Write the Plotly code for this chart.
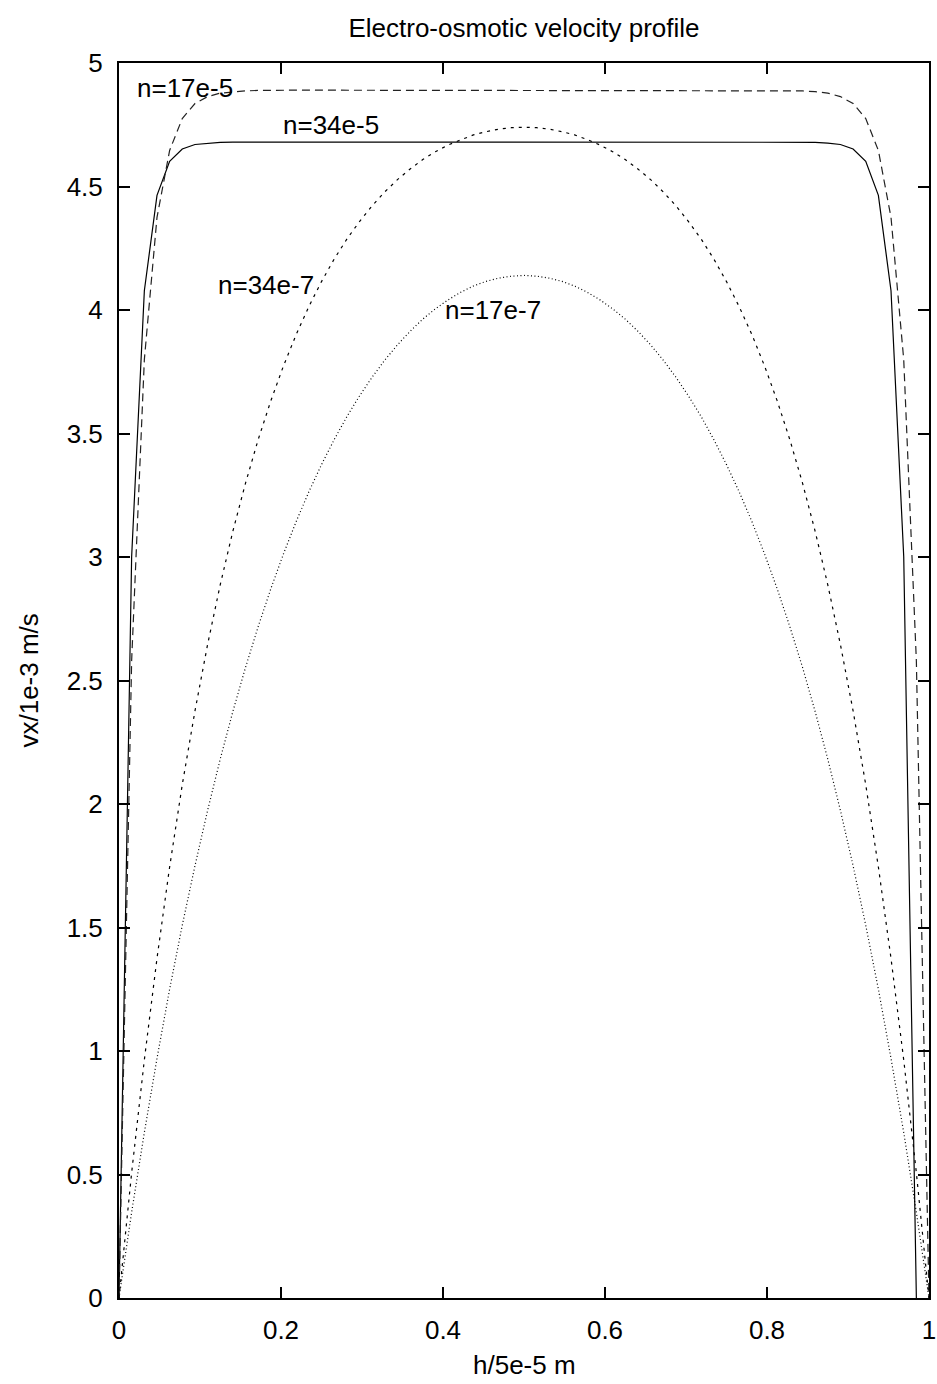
import plotly.graph_objects as go

# Sample positions (h / 5e-5 m)
x_vals = [0, 0.0156, 0.0313, 0.0469, 0.0625, 0.0781, 0.0938, 0.1094, 0.125, 0.1406,
          0.1563, 0.1719, 0.1875, 0.2031, 0.2188, 0.2344, 0.25, 0.2656, 0.2813, 0.2969,
          0.3125, 0.3281, 0.3438, 0.3594, 0.375, 0.3906, 0.4063, 0.4219, 0.4375, 0.4531,
          0.4688, 0.4844, 0.5, 0.5156, 0.5313, 0.5469, 0.5625, 0.5781, 0.5938, 0.6094,
          0.625, 0.6406, 0.6563, 0.6719, 0.6875, 0.7031, 0.7188, 0.7344, 0.75, 0.7656,
          0.7813, 0.7969, 0.8125, 0.8281, 0.8438, 0.8594, 0.875, 0.8906, 0.9063, 0.9219,
          0.9375, 0.9531, 0.9688, 0.9844, 1]

# n = 34e-5 (solid)
v_34e5 = [0, 3.001, 4.078, 4.464, 4.602, 4.652, 4.670, 4.676, 4.679,
          4.68, 4.68, 4.68, 4.68, 4.68, 4.68, 4.68, 4.68, 4.68, 4.68,
          4.68, 4.68, 4.68, 4.68, 4.68, 4.68, 4.68, 4.68, 4.68, 4.68,
          4.68, 4.68, 4.68, 4.68, 4.68, 4.68, 4.68, 4.68, 4.68, 4.68,
          4.68, 4.68, 4.68, 4.68, 4.68, 4.68, 4.68, 4.68, 4.68, 4.68,
          4.68, 4.68, 4.68, 4.68, 4.68, 4.68,
          4.679, 4.676, 4.670, 4.652, 4.602, 4.464, 4.078, 3.001, 0]

# n = 17e-5 (long dash)
v_17e5 = [0, 2.580, 3.799, 4.375, 4.646, 4.775, 4.836, 4.864, 4.878, 4.884, 4.887, 4.889,
          4.89, 4.89, 4.89, 4.89, 4.89, 4.89, 4.89, 4.89, 4.89, 4.89,
          4.89, 4.89, 4.89, 4.89, 4.89, 4.89, 4.89, 4.89, 4.89, 4.89,
          4.89, 4.89, 4.89, 4.89, 4.89, 4.89, 4.89, 4.89, 4.89, 4.89,
          4.89, 4.89, 4.89, 4.89, 4.89, 4.89, 4.89, 4.89, 4.89, 4.89, 4.89,
          4.889, 4.887, 4.884, 4.878, 4.864, 4.836, 4.775, 4.646, 4.375, 3.799, 2.580, 0]

# n = 34e-7 (short dash)
v_34e7 = [0, 0.507, 0.964, 1.375, 1.745, 2.078, 2.377, 2.646, 2.888, 3.105, 3.300,
          3.476, 3.633, 3.774, 3.901, 4.014, 4.115, 4.206, 4.287, 4.358, 4.422,
          4.478, 4.528, 4.571, 4.609, 4.641, 4.668, 4.690, 4.709, 4.722, 4.732,
          4.738, 4.740,
          4.738, 4.732, 4.722, 4.709, 4.690, 4.668, 4.641, 4.609, 4.571, 4.528,
          4.478, 4.422, 4.358, 4.287, 4.206, 4.115, 4.014, 3.901, 3.774, 3.633,
          3.476, 3.300, 3.105, 2.888, 2.646, 2.377, 2.078, 1.745, 1.375, 0.964, 0.507, 0]

# n = 17e-7 (dotted)
v_17e7 = [0, 0.347, 0.670, 0.970, 1.250, 1.509, 1.750, 1.974, 2.182, 2.375, 2.554,
          2.719, 2.872, 3.013, 3.144, 3.264, 3.374, 3.475, 3.568, 3.652, 3.728,
          3.797, 3.859, 3.914, 3.963, 4.005, 4.041, 4.072, 4.097, 4.116, 4.129,
          4.137, 4.140,
          4.137, 4.129, 4.116, 4.097, 4.072, 4.041, 4.005, 3.963, 3.914, 3.859,
          3.797, 3.728, 3.652, 3.568, 3.475, 3.374, 3.264, 3.144, 3.013, 2.872,
          2.719, 2.554, 2.375, 2.182, 1.974, 1.750, 1.509, 1.250, 0.970, 0.670, 0.347, 0]

label_texts = ["n=17e-5", "n=34e-5", "n=34e-7", "n=17e-7"]
label_x = [0.02, 0.2, 0.12, 0.4]
label_y = [4.9, 4.75, 4.1, 4.0]

x_ticks = [0, 0.2, 0.4, 0.6, 0.8, 1]
y_ticks = [0, 0.5, 1, 1.5, 2, 2.5, 3, 3.5, 4, 4.5, 5]

FONT = "Liberation Sans, Arial, Helvetica, sans-serif"
FS = 26

W, H = 937, 1384
fig = go.Figure()
fig.add_trace(go.Scatter(x=x_vals, y=v_34e5, mode="lines",
                         line=dict(color="black", width=1.2), name="n=34e-5"))
fig.add_trace(go.Scatter(x=x_vals, y=v_17e5, mode="lines",
                         line=dict(color="#222222", width=1.2, dash="8px,5px"), name="n=17e-5"))
fig.add_trace(go.Scatter(x=x_vals, y=v_34e7, mode="lines",
                         line=dict(color="black", width=1.2, dash="3px,5px"), name="n=34e-7"))
fig.add_trace(go.Scatter(x=x_vals, y=v_17e7, mode="lines",
                         line=dict(color="black", width=1.2, dash="1px,2.5px"), name="n=17e-7"))

for t, lx, ly in zip(label_texts, label_x, label_y):
    fig.add_annotation(x=lx, y=ly, text=t, showarrow=False, xanchor="left",
                       yanchor="middle", font=dict(family=FONT, size=FS, color="black"))

# axis titles
fig.add_annotation(xref="paper", yref="paper", x=0.5, y=-0.0543, text="h/5e-5 m",
                   showarrow=False, xanchor="center", yanchor="middle",
                   font=dict(family=FONT, size=FS, color="black"))
fig.add_annotation(xref="paper", yref="paper", x=-0.1123, y=0.5, text="vx/1e-3 m/s",
                   showarrow=False, textangle=-90, xanchor="center", yanchor="middle",
                   font=dict(family=FONT, size=FS, color="black"))

fig.update_layout(
    width=W, height=H,
    margin=dict(l=119, r=8, t=63, b=86),
    paper_bgcolor="white", plot_bgcolor="white",
    showlegend=False,
    font=dict(family=FONT, size=FS, color="black"),
    title=dict(text="Electro-osmotic velocity profile", x=0.5, xref="paper",
               xanchor="center", y=1 - 28 / H, yanchor="middle",
               font=dict(family=FONT, size=FS, color="black")),
)
fig.update_xaxes(range=[0, 1], tickvals=x_ticks, showgrid=False, zeroline=False,
                 showline=True, linecolor="black", linewidth=2, mirror="ticks",
                 ticks="inside", ticklen=11, tickwidth=2, tickcolor="black",
                 ticklabelstandoff=8, automargin=False)
fig.update_yaxes(range=[0, 5], tickvals=y_ticks, showgrid=False, zeroline=False,
                 showline=True, linecolor="black", linewidth=2, mirror="ticks",
                 ticks="inside", ticklen=11, tickwidth=2, tickcolor="black",
                 ticklabelstandoff=9, automargin=False)

# remove the default page margin and scrollbars so the figure fills the window exactly
fig.write_html("out.html",
               config={"displayModeBar": False},
               post_script="document.body.style.margin='0';"
                           "document.body.style.overflow='hidden';"
                           "document.documentElement.style.overflow='hidden';")
